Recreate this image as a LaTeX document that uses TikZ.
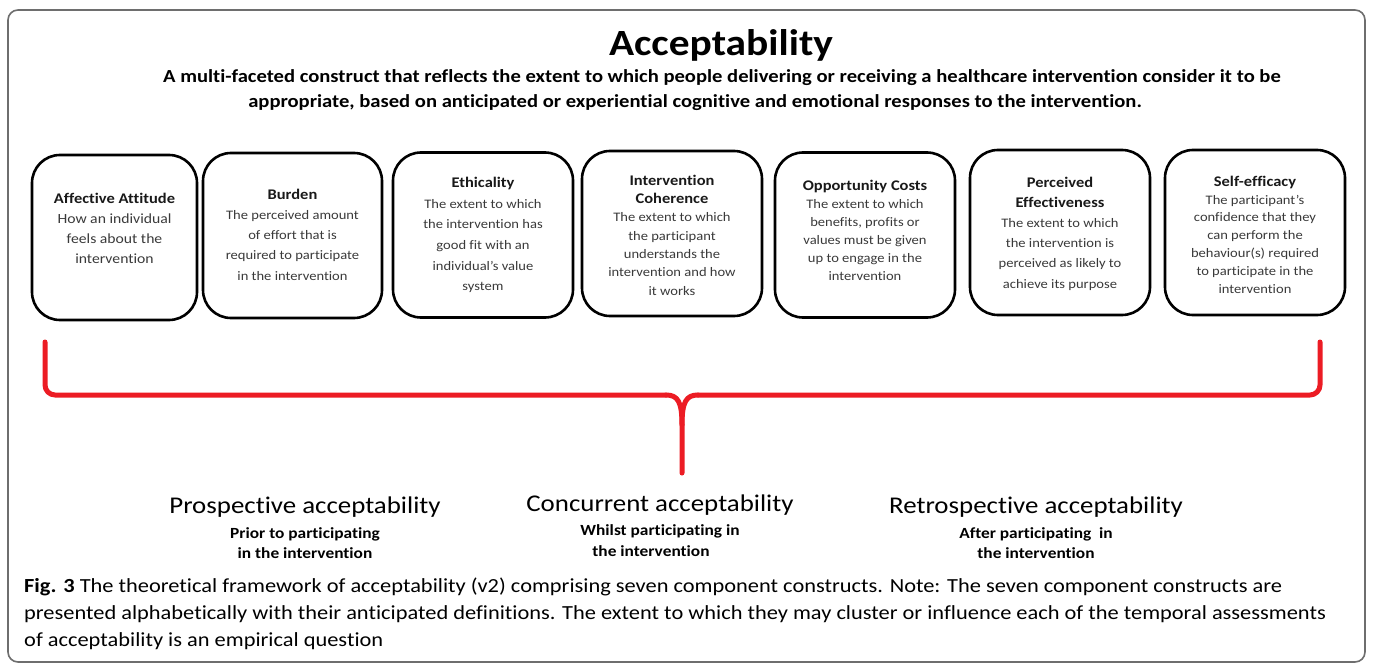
\documentclass[tikz,border=0pt]{standalone}
\usepackage{fontspec}
\setmainfont{Carlito}[FakeStretch=1.12, Ligatures=NoCommon]
\definecolor{bodygray}{HTML}{3A3A3A}
\definecolor{bracketred}{HTML}{EC1C24}
\definecolor{framegray}{HTML}{6E6E6E}
\begin{document}
\begin{tikzpicture}[x=1pt,y=-1pt,
  construct/.style={draw=black, line width=2.6pt, rounded corners=28pt,
    minimum width=#1, minimum height=165pt, inner sep=0pt},
  ctext/.style={align=center, inner sep=0pt, text=bodygray,
    font=\fontsize{13}{#1}\selectfont},
  ctext/.default=20,
  period/.style={align=center, inner sep=0pt, text=black,
    font=\fontsize{15.5}{20}\selectfont\bfseries},
  periodhead/.style={inner sep=0pt, text=black, font=\fontsize{24}{28}\selectfont},
  capline/.style={anchor=west, inner sep=0pt, text=black, font=\fontsize{20}{27}\selectfont},
  brace/.style={draw=bracketred, line width=5pt, line cap=round, line join=round}
]
\useasboundingbox (0,0) rectangle (1374,666);
\fill[white] (0,0) rectangle (1374,666);
\draw[framegray, line width=1.6pt, rounded corners=10pt] (8,10) rectangle (1365,662);

% title
\node[inner sep=0pt, font=\fontsize{37}{40}\selectfont\bfseries] (title) at (721,45) {Acceptability};
\node[inner sep=0pt, font=\fontsize{18.4}{22}\selectfont\bfseries] (sub1) at (722,78)
  {A multi-faceted construct that reflects the extent to which people delivering or receiving a healthcare intervention consider it to be};
\node[inner sep=0pt, font=\fontsize{18.4}{22}\selectfont\bfseries] (sub2) at (695,103)
  {appropriate, based on anticipated or experiential cognitive and emotional responses to the intervention.};

% constructs
\newcommand{\ct}[1]{{\fontsize{14.7}{20}\selectfont\bfseries\color{black!90}#1}}
\newcommand{\cbig}[1]{{\fontsize{14}{20}\selectfont #1}}
\node[construct=165pt] (aff) at (114.5,237.5) {};
\node[construct=179pt] (bur) at (292.5,235.5) {};
\node[construct=180pt] (eth) at (483,235) {};
\node[construct=180pt] (coh) at (672,233.5) {};
\node[construct=180pt] (opp) at (865,235) {};
\node[construct=180pt] (eff) at (1060,232.5) {};
\node[construct=180pt] (sel) at (1255,232.5) {};

\node[ctext=20] (afft) at (114.5,228)
  {\ct{Affective Attitude}\\\cbig{How an individual}\\\cbig{feels about the}\\\cbig{intervention}};
\node[ctext=20.25] (burt) at (292.5,234.5)
  {\ct{Burden}\\The perceived amount\\of effort that is\\required to participate\\in the intervention};
\node[ctext=20.6] (etht) at (483,235)
  {\ct{Ethicality}\\The extent to which\\the intervention has\\good fit with an\\individual's value\\system};
\node[ctext=18.3] (coht) at (672,235)
  {\ct{Intervention}\\\ct{Coherence}\\The extent to which\\the participant\\understands the\\intervention and how\\it works};
\node[ctext=18] (oppt) at (865,230)
  {\ct{Opportunity Costs}\\The extent to which\\benefits, profits or\\values must be given\\up to engage in the\\intervention};
\node[ctext=20.2] (efft) at (1060,233.5)
  {\ct{Perceived}\\\ct{Effectiveness}\\The extent to which\\the intervention is\\perceived as likely to\\achieve its purpose};
\node[ctext=17.8] (selt) at (1255,234.5)
  {\ct{Self-efficacy}\\The participant's\\confidence that they\\can perform the\\behaviour(s) required\\to participate in the\\intervention};

% brace
\coordinate (bl) at (45,342);
\coordinate (br) at (1320,342);
\coordinate (tip) at (682,473);
\draw[brace, rounded corners=10pt] (bl) -- (45,395) -- (666,395);
\draw[brace] (666,395) .. controls (678,395) and (682,402) .. (682,425) -- (tip);
\draw[brace, rounded corners=10pt] (br) -- (1320,395) -- (698,395);
\draw[brace] (698,395) .. controls (686,395) and (682,402) .. (682,425);

% periods
\node[periodhead] (pro) at (305,507) {Prospective acceptability};
\node[period] (prosub) at (305,543) {Prior to participating\\in the intervention};
\node[periodhead] (con) at (660,505) {Concurrent acceptability};
\node[period] (consub1) at (660,531) {Whilst participating in};
\node[period] (consub2) at (651,551) {the intervention};
\node[periodhead] (ret) at (1036,507) {Retrospective acceptability};
\node[period] (retsub) at (1036,543) {After participating \ in\\the intervention};

% caption
\node[capline] (cap1) at (24,587) {\textbf{Fig. 3} The theoretical framework of acceptability (v2) comprising seven component constructs. Note: The seven component constructs are};
\node[capline] (cap2) at (24,614) {presented alphabetically with their anticipated definitions. The extent to which they may cluster or influence each of the temporal assessments};
\node[capline] (cap3) at (24,641) {of acceptability is an empirical question};
\end{tikzpicture}
\end{document}
